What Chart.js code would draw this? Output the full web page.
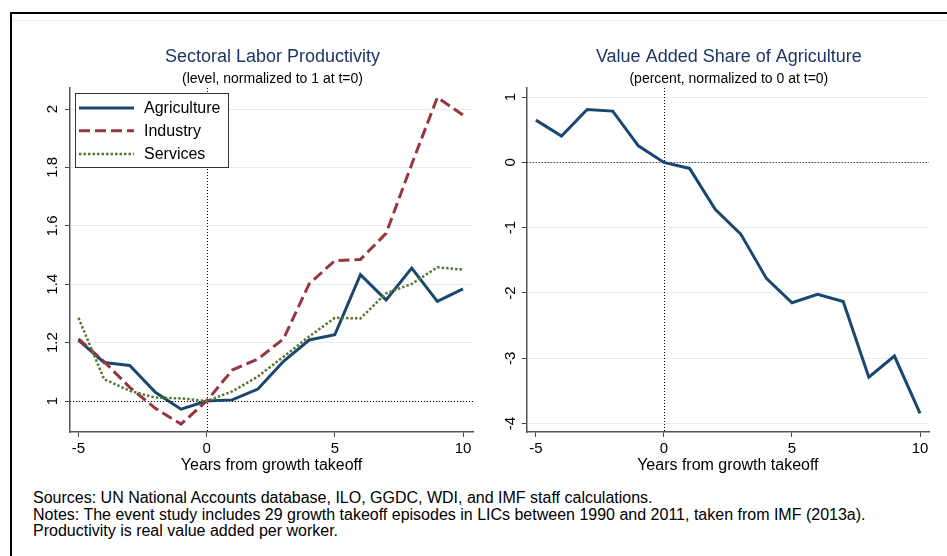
<!DOCTYPE html>
<html>
<head>
<meta charset="utf-8">
<script src="https://cdn.jsdelivr.net/npm/chart.js@4.4.1/dist/chart.umd.min.js"></script>
<style>
  body { margin: 0; background: #fff; width: 947px; height: 556px; overflow: hidden; position: relative; font-family: "Liberation Sans", Arial, sans-serif; }
  #frame { position: absolute; left: 10px; top: 12px; width: 960px; height: 560px; border-top: 2px solid #000; border-left: 2px solid #000; }
  #inner { position: absolute; left: 12px; top: 20px; width: 940px; border-top: 1px solid #eef2f5; }
  .panel { position: absolute; top: 25px; }
  #left { left: 20px; }
  #right { left: 480px; }
  #notes { position: absolute; left: 33px; top: 490px; font-size: 16px; line-height: 16.5px; color: #000; white-space: nowrap; }
</style>
</head>
<body>
<div id="frame"></div>
<div id="inner"></div>
<canvas id="left" class="panel" width="460" height="455"></canvas>
<canvas id="right" class="panel" width="467" height="455"></canvas>
<div id="notes">
  Sources: UN National Accounts database, ILO, GGDC, WDI, and IMF staff calculations.<br>
  Notes: The event study includes 29 growth takeoff episodes in LICs between 1990 and 2011, taken from IMF (2013a).<br>
  Productivity is real value added per worker.
</div>
<script>
const years = [-5, -4, -3, -2, -1, 0, 1, 2, 3, 4, 5, 6, 7, 8, 9, 10];

// labor productivity, level normalized to 1 at t=0
const agriculture = [1.209, 1.132, 1.122, 1.03, 0.972, 1.0, 1.004, 1.041, 1.136, 1.209, 1.227, 1.433, 1.346, 1.455, 1.341, 1.384];
const industry = [1.213, 1.135, 1.047, 0.975, 0.921, 1.0, 1.106, 1.144, 1.213, 1.401, 1.481, 1.485, 1.574, 1.811, 2.04, 1.979];
const services = [1.285, 1.075, 1.035, 1.012, 1.009, 1.0, 1.033, 1.084, 1.152, 1.221, 1.285, 1.283, 1.369, 1.401, 1.458, 1.45];

// value added share of agriculture, percent normalized to 0 at t=0
const agShare = [0.648, 0.403, 0.81, 0.786, 0.255, 0, -0.092, -0.72, -1.098, -1.777, -2.15, -2.02, -2.13, -3.29, -2.966, -3.845];

const xTicks = [-5, 0, 5, 10];
const leftYTicks = [1, 1.2, 1.4, 1.6, 1.8, 2];
const rightYTicks = [-4, -3, -2, -1, 0, 1];

const FONT = '"Liberation Sans", Arial, sans-serif';
const NAVY = '#1a476f';
const MAROON = '#96363e';
const GREEN = '#55792f';

function toPoints(values) {
  return years.map((y, i) => ({ x: y, y: values[i] }));
}

// titles, dotted reference lines and the boxed legend
const decor = {
  id: 'decor',
  beforeDatasetsDraw(chart, args, opts) {
    const ctx = chart.ctx;
    const area = chart.chartArea;
    const xs = chart.scales.x, ys = chart.scales.y;
    ctx.save();
    ctx.strokeStyle = '#000';
    ctx.lineWidth = 1;
    ctx.setLineDash([1, 2]);
    const yy = Math.round(ys.getPixelForValue(opts.refY)) + 0.5;
    ctx.beginPath();
    ctx.moveTo(area.left, yy);
    ctx.lineTo(area.right, yy);
    ctx.stroke();
    const xx = Math.round(xs.getPixelForValue(0)) + 0.5;
    ctx.beginPath();
    ctx.moveTo(xx, area.top);
    ctx.lineTo(xx, area.bottom);
    ctx.stroke();
    ctx.restore();
  },
  afterDraw(chart, args, opts) {
    const ctx = chart.ctx;
    const area = chart.chartArea;
    const cx = (area.left + area.right) / 2 + 1;
    ctx.save();
    ctx.textAlign = 'center';
    ctx.textBaseline = 'middle';
    ctx.fillStyle = '#1c3664';
    ctx.font = '18px ' + FONT;
    ctx.fillText(opts.title, cx, 32);
    ctx.fillStyle = '#000';
    ctx.font = '14px ' + FONT;
    ctx.fillText(opts.subtitle, cx, 54);

    if (opts.legend) {
      const bx = area.left + 5, by = area.top + 5, bw = 153, bh = 74;
      ctx.fillStyle = '#fff';
      ctx.fillRect(bx, by, bw, bh);
      ctx.strokeStyle = '#333';
      ctx.lineWidth = 1;
      ctx.strokeRect(bx + 0.5, by + 0.5, bw, bh);
      const rows = [20, 42.7, 66];
      chart.data.datasets.forEach((ds, i) => {
        const ry = area.top + rows[i];
        ctx.strokeStyle = ds.borderColor;
        ctx.lineWidth = ds.borderWidth;
        ctx.setLineDash(ds.borderDash || []);
        ctx.beginPath();
        ctx.moveTo(area.left + 9, ry);
        ctx.lineTo(area.left + 64, ry);
        ctx.stroke();
        ctx.setLineDash([]);
        ctx.fillStyle = '#000';
        ctx.textAlign = 'left';
        ctx.font = '16px ' + FONT;
        ctx.fillText(ds.label, area.left + 74, ry + 1);
      });
    }
    ctx.restore();
  }
};

function axes(xMin, xMax, yMin, yMax, yTicks, yAxisWidth, yPad) {
  return {
    x: {
      type: 'linear',
      min: xMin,
      max: xMax,
      afterBuildTicks: s => { s.ticks = xTicks.map(v => ({ value: v })); },
      afterFit: s => { s.height = 48; },
      ticks: { color: '#000', font: { family: FONT, size: 15 }, padding: 3, maxRotation: 0, callback: v => String(v) },
      grid: { drawOnChartArea: false, tickLength: 5, tickColor: '#444', lineWidth: 1 },
      border: { display: true, color: '#555', width: 1.5 },
      title: { display: true, text: 'Years from growth takeoff', color: '#000', font: { family: FONT, size: 16 }, padding: { top: 0, bottom: 5 } }
    },
    y: {
      type: 'linear',
      min: yMin,
      max: yMax,
      afterBuildTicks: s => { s.ticks = yTicks.map(v => ({ value: v })); },
      afterFit: s => { s.width = yAxisWidth; },
      ticks: { color: '#000', font: { family: FONT, size: 15 }, padding: yPad, minRotation: 90, maxRotation: 90, crossAlign: 'center', callback: v => String(Math.round(v * 10) / 10) },
      grid: { color: '#e3ecf1', lineWidth: 1, tickLength: 5, tickColor: '#444' },
      border: { display: true, color: '#555', width: 1.5 }
    }
  };
}

new Chart(document.getElementById('left'), {
  type: 'line',
  data: {
    datasets: [
      { label: 'Agriculture', data: toPoints(agriculture), borderColor: NAVY, borderWidth: 3, pointRadius: 0, order: 3 },
      { label: 'Industry', data: toPoints(industry), borderColor: MAROON, borderWidth: 3, borderDash: [11, 5], pointRadius: 0, order: 2 },
      { label: 'Services', data: toPoints(services), borderColor: GREEN, borderWidth: 2.5, borderDash: [2.5, 2], pointRadius: 0, order: 1 }
    ]
  },
  options: {
    responsive: false,
    animation: false,
    layout: { padding: { top: 63, right: 7, left: 0, bottom: 0 } },
    scales: axes(-5.33, 10.39, 0.894, 2.072, leftYTicks, 50, 1.6),
    plugins: {
      legend: { display: false },
      tooltip: { enabled: false },
      decor: { title: 'Sectoral Labor Productivity', subtitle: '(level, normalized to 1 at t=0)', refY: 1, legend: true }
    }
  },
  plugins: [decor]
});

new Chart(document.getElementById('right'), {
  type: 'line',
  data: {
    datasets: [
      { label: 'Agriculture', data: toPoints(agShare), borderColor: NAVY, borderWidth: 3, pointRadius: 0 }
    ]
  },
  options: {
    responsive: false,
    animation: false,
    layout: { padding: { top: 63, right: 18, left: 0, bottom: 0 } },
    scales: axes(-5.36, 10.35, -4.13, 1.14, rightYTicks, 46.7, 4.5),
    plugins: {
      legend: { display: false },
      tooltip: { enabled: false },
      decor: { title: 'Value Added Share of Agriculture', subtitle: '(percent, normalized to 0 at t=0)', refY: 0, legend: false }
    }
  },
  plugins: [decor]
});
</script>
</body>
</html>
